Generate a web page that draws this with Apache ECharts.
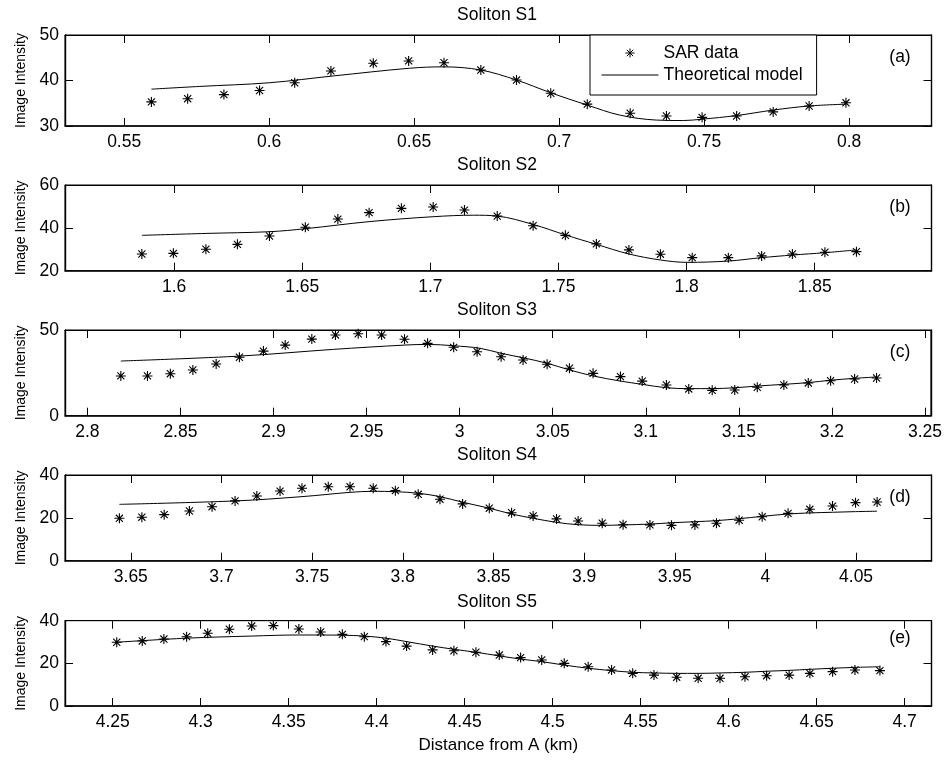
<!DOCTYPE html>
<html>
<head>
<meta charset="utf-8">
<script src="https://cdn.jsdelivr.net/npm/echarts@6/dist/echarts.min.js"></script>
<style>
html,body{margin:0;padding:0;background:#fff;}
#chart{width:945px;height:760px;}
</style>
</head>
<body>
<div id="chart"></div>
<script>
// ---------- DATA ----------
const titles = ['Soliton S1', 'Soliton S2', 'Soliton S3', 'Soliton S4', 'Soliton S5'];
const panelLabels = ['(a)', '(b)', '(c)', '(d)', '(e)'];

// Panel (a) – SAR data
const xA = [0.5594,0.5719,0.5844,0.5967,0.6088,0.6213,0.6359,0.6481,0.6603,0.6730,0.6853,0.6971,0.7097,0.7245,0.7370,0.7493,0.7612,0.7738,0.7862,0.7989];
const yA = [35.3,36.0,36.9,37.8,39.5,42.1,43.8,44.3,43.9,42.3,40.1,37.2,34.8,32.8,32.2,31.9,32.2,33.1,34.4,35.1];
// Panel (a) – theoretical model
const xLA = [0.5594,0.5761,0.6000,0.6221,0.6485,0.6600,0.6730,0.6853,0.6971,0.7097,0.7209,0.7336,0.7428,0.7493,0.7612,0.7738,0.7862,0.7989];
const yLA = [38.1,38.7,39.5,41.0,42.7,43.0,42.3,40.1,37.3,34.6,32.4,31.3,31.2,31.5,32.3,33.5,34.4,34.8];

// Panel (b)
const xB = [1.5874,1.5997,1.6124,1.6247,1.6372,1.6512,1.6639,1.6761,1.6887,1.7011,1.7133,1.7261,1.7401,1.7527,1.7648,1.7775,1.7898,1.8022,1.8163,1.8293,1.8413,1.8540,1.8663];
const yB = [27.8,28.1,30.0,32.3,36.2,40.3,44.1,47.1,49.1,49.7,48.3,45.5,41.0,36.5,32.5,29.7,27.7,26.1,26.1,26.9,27.8,28.6,28.9];
const xLB = [1.5874,1.6124,1.6372,1.6512,1.6761,1.7011,1.7169,1.7261,1.7401,1.7527,1.7648,1.7775,1.7898,1.8002,1.8163,1.8293,1.8413,1.8540,1.8663];
const yLB = [36.5,37.4,38.2,39.6,42.9,45.2,45.9,45.5,41.6,36.7,32.3,27.8,25.0,23.9,24.5,26.1,27.3,28.4,29.7];

// Panel (c)
const xC = [2.8180,2.8323,2.8446,2.8567,2.8692,2.8817,2.8946,2.9063,2.9206,2.9333,2.9455,2.9581,2.9704,2.9828,2.9968,3.0094,3.0223,3.0341,3.0470,3.0590,3.0717,3.0864,3.0981,3.1111,3.1231,3.1357,3.1478,3.1599,3.1742,3.1873,3.1993,3.2122,3.2240];
const yC = [23.2,23.2,24.5,26.7,30.2,34.1,37.7,41.2,44.7,47.1,47.8,47.1,44.6,42.2,39.9,37.3,34.4,32.5,30.0,27.7,24.7,22.8,20.2,17.9,15.6,14.8,15.0,16.6,17.9,19.1,20.4,21.4,22.0];
const xLC = [2.8180,2.8821,2.9323,2.9704,2.9828,2.9968,3.0111,3.0223,3.0341,3.0470,3.0590,3.0717,3.0864,3.0981,3.1111,3.1231,3.1357,3.1478,3.1599,3.1742,3.1873,3.1993,3.2122,3.2240];
const yLC = [31.9,34.8,38.7,41.2,41.6,40.8,39.3,36.4,33.8,30.6,26.7,23.2,20.2,18.3,16.3,15.8,15.8,16.3,17.3,18.3,19.3,20.7,21.8,22.6];

// Panel (d)
const xD = [3.6437,3.6561,3.6684,3.6823,3.6948,3.7075,3.7195,3.7323,3.7444,3.7589,3.7709,3.7837,3.7959,3.8085,3.8205,3.8330,3.8477,3.8600,3.8719,3.8848,3.8967,3.9100,3.9215,3.9363,3.9482,3.9611,3.9730,3.9855,3.9982,4.0125,4.0245,4.0370,4.0497,4.0616];
const yD = [19.8,20.3,21.5,23.2,25.2,27.9,30.2,32.5,33.8,34.5,34.5,33.8,32.7,31.0,28.7,26.5,24.5,22.4,20.9,19.5,18.5,17.5,16.8,16.7,16.5,16.7,17.5,18.9,20.5,22.1,24.0,25.5,27.1,27.4];
const xLD = [3.6437,3.7075,3.7444,3.7709,3.7837,3.7959,3.8085,3.8205,3.8330,3.8477,3.8600,3.8719,3.8848,3.8967,3.9100,3.9215,3.9363,3.9482,3.9611,3.9730,3.9855,3.9982,4.0125,4.0245,4.0370,4.0497,4.0616];
const yLD = [26.3,27.9,29.9,31.9,32.4,32.2,31.5,29.9,27.3,24.5,21.8,19.8,17.9,16.8,16.5,16.7,17.1,17.7,18.2,18.7,19.6,20.7,21.8,22.3,22.6,22.9,23.1];

// Panel (e)
const xE = [4.2523,4.2668,4.2791,4.2920,4.3040,4.3163,4.3290,4.3413,4.3558,4.3682,4.3805,4.3930,4.4053,4.4170,4.4318,4.4439,4.4564,4.4697,4.4818,4.4938,4.5066,4.5202,4.5335,4.5455,4.5576,4.5705,4.5827,4.5951,4.6093,4.6216,4.6344,4.6462,4.6591,4.6718,4.6860];
const yE = [29.9,30.5,31.4,32.5,34.1,36.0,37.5,37.7,36.1,34.7,33.6,32.5,30.2,28.1,26.3,25.9,25.2,23.9,22.7,21.6,20.0,18.4,16.9,15.3,14.5,13.5,13.0,13.0,13.7,14.2,14.5,15.3,16.1,16.9,16.6];
const xLE = [4.2523,4.2920,4.3290,4.3558,4.3805,4.3930,4.4053,4.4170,4.4318,4.4439,4.4564,4.4697,4.4818,4.4938,4.5066,4.5202,4.5335,4.5455,4.5576,4.5705,4.5827,4.5951,4.6093,4.6216,4.6344,4.6462,4.6591,4.6718,4.6860];
const yLE = [29.9,31.8,32.8,33.3,33.2,32.8,31.8,30.2,28.1,26.6,25.2,23.5,22.0,20.8,19.2,17.7,16.6,15.8,15.5,15.3,15.3,15.5,15.8,16.3,16.7,17.2,17.7,18.1,18.4];

// Tick labels
const ticksA = [0.55,0.6,0.65,0.7,0.75,0.8];
const ticksB = [1.6,1.65,1.7,1.75,1.8,1.85];
const ticksC = [2.8,2.85,2.9,2.95,3,3.05,3.1,3.15,3.2,3.25];
const ticksD = [3.65,3.7,3.75,3.8,3.85,3.9,3.95,4,4.05];
const ticksE = [4.25,4.3,4.35,4.4,4.45,4.5,4.55,4.6,4.65,4.7];

// Axis ranges
const xRanges = [[0.5296,0.8284],[1.5574,1.8956],[2.788,3.2532],[3.6137,4.0916],[4.2229,4.7153]];
const yRanges = [[30,50,10],[20,60,20],[0,50,50],[0,40,20],[0,40,20]];

// ---------- LAYOUT (style only) ----------
const gridTops = [35, 185, 330, 475, 620.7];
const gridHeights = [91, 85.7, 85.7, 85.7, 85.3];
const titleYs = [15, 165, 310, 455, 602.5];
const labelYs = [57, 206.7, 352, 496.7, 638.3];

const sarX = [xA, xB, xC, xD, xE];
const sarY = [yA, yB, yC, yD, yE];
const modX = [xLA, xLB, xLC, xLD, xLE];
const modY = [yLA, yLB, yLC, yLD, yLE];
const tickSets = [ticksA, ticksB, ticksC, ticksD, ticksE];

const STAR = 'path://M0,5 L10,5 M5,0 L5,10 M1.46,1.46 L8.54,8.54 M8.54,1.46 L1.46,8.54';
const FONT = '"Liberation Sans", Arial, Helvetica, sans-serif';
const fmt = v => String(Math.round(v * 10000) / 10000);

const grids = [], xAxes = [], yAxes = [], series = [], graphics = [];
for (let i = 0; i < 5; i++) {
  grids.push({left: 65, right: 13.5, top: gridTops[i], height: gridHeights[i],
    show: true, borderColor: '#000', borderWidth: 1, backgroundColor: '#fff'});
  const tk = tickSets[i];
  const commonX = {gridIndex: i, type: 'value', min: xRanges[i][0], max: xRanges[i][1],
    splitLine: {show: false}};
  xAxes.push(Object.assign({}, commonX, {
    position: 'bottom',
    axisLine: {show: true, onZero: false, lineStyle: {color: '#000', width: 1.6}},
    axisTick: {show: true, inside: true, length: 8, customValues: tk, lineStyle: {color: '#000', width: 1}},
    axisLabel: {show: true, customValues: tk, margin: 7, fontSize: 17.5, color: '#000', fontFamily: FONT, formatter: fmt},
    name: i === 4 ? 'Distance from A (km)' : '',
    nameLocation: 'middle', nameGap: 31,
    nameTextStyle: {fontSize: 17, color: '#000', fontFamily: FONT}
  }));
  xAxes.push(Object.assign({}, commonX, {
    position: 'top',
    axisLine: {show: true, onZero: false, lineStyle: {color: '#000', width: 1}},
    axisTick: {show: true, inside: true, length: 8, customValues: tk, lineStyle: {color: '#000', width: 1}},
    axisLabel: {show: false}
  }));
  const commonY = {gridIndex: i, type: 'value', min: yRanges[i][0], max: yRanges[i][1],
    interval: yRanges[i][2], splitLine: {show: false}};
  yAxes.push(Object.assign({}, commonY, {
    position: 'left',
    axisLine: {show: true, onZero: false, lineStyle: {color: '#000', width: 1.4}},
    axisTick: {show: true, inside: true, length: 8, lineStyle: {color: '#000', width: 1}},
    axisLabel: {show: true, margin: 6, fontSize: 17.5, color: '#000', fontFamily: FONT},
    name: 'Image Intensity', nameLocation: 'middle', nameGap: 36,
    nameTextStyle: {fontSize: 14, color: '#000', fontFamily: FONT}
  }));
  yAxes.push(Object.assign({}, commonY, {
    position: 'right',
    axisLine: {show: true, onZero: false, lineStyle: {color: '#000', width: 1.4}},
    axisTick: {show: true, inside: true, length: 8, lineStyle: {color: '#000', width: 1}},
    axisLabel: {show: false}
  }));
  series.push({
    type: 'line', name: 'Theoretical model', xAxisIndex: 2 * i, yAxisIndex: 2 * i,
    data: modX[i].map((x, j) => [x, modY[i][j]]),
    symbol: 'none', smooth: 0.35,
    lineStyle: {color: '#000', width: 1}, itemStyle: {color: '#000'}, z: 2
  });
  series.push({
    type: 'scatter', name: 'SAR data', xAxisIndex: 2 * i, yAxisIndex: 2 * i,
    data: sarX[i].map((x, j) => [x, sarY[i][j]]),
    symbol: STAR, symbolSize: 10,
    itemStyle: {color: 'rgba(0,0,0,0)', borderColor: '#000', borderWidth: 1.1, opacity: 1}, z: 3
  });
  graphics.push({type: 'text', x: 497, y: titleYs[i], z: 10,
    style: {text: titles[i], font: '17.5px ' + FONT, fill: '#000',
      textAlign: 'center', textVerticalAlign: 'middle', align: 'center', verticalAlign: 'middle'}});
  graphics.push({type: 'text', x: 900, y: labelYs[i], z: 10,
    style: {text: panelLabels[i], font: '17.5px ' + FONT, fill: '#000',
      textAlign: 'center', textVerticalAlign: 'middle', align: 'center', verticalAlign: 'middle'}});
}

const chart = echarts.init(document.getElementById('chart'), null, {renderer: 'canvas'});
chart.setOption({
  animation: false,
  backgroundColor: '#fff',
  textStyle: {fontFamily: FONT, color: '#000'},
  grid: grids,
  xAxis: xAxes,
  yAxis: yAxes,
  legend: {
    left: 590, top: 35, orient: 'vertical',
    itemWidth: 57, itemHeight: 9, itemGap: 4,
    padding: [9, 14, 11, 11],
    borderColor: '#000', borderWidth: 1, backgroundColor: '#fff',
    textStyle: {fontSize: 17.5, color: '#000', fontFamily: FONT},
    itemStyle: {borderWidth: 1},
    lineStyle: {width: 1, color: '#000'},
    selectedMode: false,
    data: [
      {name: 'SAR data'},
      {name: 'Theoretical model', itemStyle: {color: 'rgba(0,0,0,0)', borderColor: 'rgba(0,0,0,0)', borderWidth: 0}}
    ],
    z: 20
  },
  series: series,
  graphic: graphics
});
</script>
</body>
</html>
